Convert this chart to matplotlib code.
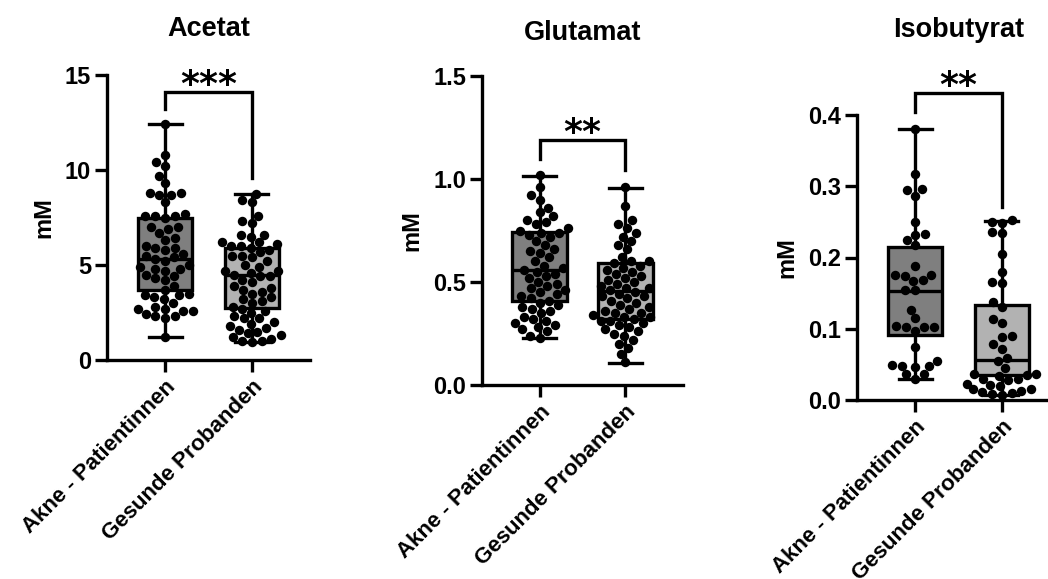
import matplotlib
matplotlib.use("Agg")
import matplotlib.pyplot as plt
import seaborn as sns

groups = ["Akne - Patientinnen", "Gesunde Probanden"]
titles = ["Acetat", "Glutamat", "Isobutyrat"]
stars = ["***", "**", "**"]

acetat_akne = [12.4, 10.8, 10.4, 10.2, 9.7, 9.3, 8.8, 8.8, 8.7, 8.7, 8.3, 7.7, 7.6, 7.6,
               7.6, 7.5, 7.0, 7.0, 6.9, 6.7, 6.4, 6.3, 6.0, 5.9, 5.9, 5.8, 5.6, 5.5, 5.4,
               5.3, 5.2, 5.0, 4.9, 4.8, 4.8, 4.7, 4.5, 4.4, 4.3, 4.2, 3.9, 3.7, 3.5, 3.4,
               3.4, 3.3, 3.2, 3.0, 2.8, 2.7, 2.7, 2.6, 2.6, 2.4, 2.3, 2.3, 2.2, 1.2]
acetat_gesund = [8.75, 8.4, 8.3, 7.6, 7.3, 7.2, 6.6, 6.6, 6.5, 6.2, 6.2, 6.1, 6.0, 6.0, 5.9,
                 5.8, 5.7, 5.5, 5.5, 5.4, 5.2, 5.0, 4.9, 4.7, 4.7, 4.6, 4.5, 4.4, 4.4, 4.2,
                 4.1, 3.9, 3.8, 3.7, 3.6, 3.5, 3.3, 3.2, 3.1, 3.0, 2.8, 2.7, 2.6, 2.5, 2.3,
                 2.2, 2.2, 2.0, 1.9, 1.8, 1.7, 1.6, 1.5, 1.4, 1.3, 1.2, 1.1, 1.0, 1.0, 0.95]

glutamat_akne = [1.02, 0.96, 0.92, 0.90, 0.86, 0.84, 0.82, 0.80, 0.79, 0.78, 0.76, 0.75,
                 0.74, 0.74, 0.73, 0.72, 0.70, 0.68, 0.66, 0.65, 0.64, 0.62, 0.60, 0.58,
                 0.57, 0.56, 0.55, 0.54, 0.53, 0.52, 0.50, 0.49, 0.48, 0.47, 0.46, 0.45,
                 0.44, 0.43, 0.42, 0.41, 0.40, 0.39, 0.38, 0.37, 0.36, 0.35, 0.33, 0.32,
                 0.31, 0.30, 0.29, 0.28, 0.27, 0.26, 0.24, 0.23]
glutamat_gesund = [0.96, 0.87, 0.80, 0.78, 0.76, 0.74, 0.72, 0.70, 0.68, 0.66, 0.62, 0.60,
                   0.60, 0.59, 0.58, 0.57, 0.56, 0.55, 0.54, 0.53, 0.52, 0.51, 0.50, 0.49,
                   0.48, 0.47, 0.47, 0.46, 0.45, 0.44, 0.43, 0.43, 0.42, 0.41, 0.40, 0.39,
                   0.38, 0.37, 0.36, 0.35, 0.35, 0.34, 0.33, 0.33, 0.32, 0.31, 0.31, 0.30,
                   0.29, 0.28, 0.27, 0.26, 0.25, 0.24, 0.22, 0.20, 0.18, 0.15, 0.11]

isobutyrat_akne = [0.380, 0.317, 0.296, 0.295, 0.287, 0.250, 0.233, 0.232, 0.225, 0.218,
                   0.188, 0.176, 0.175, 0.174, 0.168, 0.167, 0.155, 0.154, 0.127, 0.115,
                   0.103, 0.103, 0.102, 0.104, 0.097, 0.075, 0.055, 0.048, 0.048, 0.049,
                   0.047, 0.037, 0.036, 0.030]
isobutyrat_gesund = [0.252, 0.250, 0.249, 0.236, 0.235, 0.205, 0.180, 0.165, 0.164, 0.137,
                     0.130, 0.113, 0.108, 0.090, 0.089, 0.078, 0.071, 0.059, 0.055, 0.045,
                     0.037, 0.036, 0.035, 0.034, 0.030, 0.029, 0.028, 0.022, 0.021, 0.020,
                     0.016, 0.015, 0.012, 0.011, 0.010, 0.008, 0.007]

# box summary: min, q1, median, q3, max
acetat_box = [(1.2, 3.68, 5.3, 7.47, 12.4), (0.95, 2.74, 4.5, 5.9, 8.75)]
glutamat_box = [(0.23, 0.41, 0.56, 0.744, 1.015), (0.105, 0.32, 0.458, 0.594, 0.955)]
isobutyrat_box = [(0.030, 0.091, 0.153, 0.215, 0.381), (0.007, 0.035, 0.056, 0.133, 0.251)]

acetat_ticks = [0, 5, 10, 15]
glutamat_ticks = [0.0, 0.5, 1.0, 1.5]
isobutyrat_ticks = [0.0, 0.1, 0.2, 0.3, 0.4]
tick_fmt = ["{:.0f}", "{:.1f}", "{:.1f}"]

# bracket: bar height, left leg end, right leg end
acetat_bracket = (14.1, 13.2, 9.6)
glutamat_bracket = (1.19, 1.097, 1.044)
isobutyrat_bracket = (0.431, 0.404, 0.271)

panels = [
    (acetat_akne, acetat_gesund, acetat_box, acetat_ticks, acetat_bracket),
    (glutamat_akne, glutamat_gesund, glutamat_box, glutamat_ticks, glutamat_bracket),
    (isobutyrat_akne, isobutyrat_gesund, isobutyrat_box, isobutyrat_ticks, isobutyrat_bracket),
]

plt.rcParams['font.family'] = ['Liberation Sans', 'DejaVu Sans']
plt.rcParams['font.weight'] = 'bold'

W, H = 1048, 579
fig = plt.figure(figsize=(W / 100, H / 100), dpi=100)

# axes rectangles in pixels: left, top, right, bottom
rects = [(107, 75, 310, 360), (482, 76, 683, 385), (857, 115, 1060, 400)]
title_pads = [28, 26, 56]
box_colors = ["#7f7f7f", "#b2b2b2"]
lw = 2.4

for i, (g1, g2, box, ticks, bracket) in enumerate(panels):
    l, t, r, b = rects[i]
    ax = fig.add_axes([l / W, 1 - b / H, (r - l) / W, (b - t) / H])
    ax.set_xlim(-0.67, 1.67)
    ax.set_ylim(ticks[0], ticks[-1])

    stats = []
    for lo, q1, med, q3, hi in box:
        stats.append(dict(whislo=lo, q1=q1, med=med, q3=q3, whishi=hi, fliers=[]))
    bp = ax.bxp(stats, positions=[0, 1], widths=0.63, capwidths=0.38, patch_artist=True,
                showfliers=False,
                boxprops=dict(linewidth=lw, edgecolor="black"),
                whiskerprops=dict(linewidth=lw, color="black"),
                capprops=dict(linewidth=lw, color="black"),
                medianprops=dict(linewidth=lw, color="black"),
                zorder=1)
    for patch, c in zip(bp["boxes"], box_colors):
        patch.set_facecolor(c)

    xs = [0] * len(g1) + [1] * len(g2)
    sns.swarmplot(x=xs, y=g1 + g2, ax=ax, color="black", size=6.8, linewidth=0,
                  zorder=3, warn_thresh=1.0)

    ax.set_xlim(-0.67, 1.67)
    ax.set_ylim(ticks[0], ticks[-1])
    ax.set_xticks([0, 1])
    ax.set_xticklabels(groups, rotation=45, ha="right", rotation_mode="anchor",
                       fontsize=16, fontweight="bold")
    ax.set_yticks(ticks)
    ax.set_yticklabels([tick_fmt[i].format(v) for v in ticks], fontsize=17,
                       fontweight="bold")
    ax.set_ylabel("mM", fontsize=17, fontweight="bold", labelpad=7)
    ax.set_title(titles[i], fontsize=19.5, fontweight="bold", pad=title_pads[i])
    for s in ["top", "right"]:
        ax.spines[s].set_visible(False)
    for s in ["left", "bottom"]:
        ax.spines[s].set_linewidth(lw)
    ax.tick_params(axis="both", width=lw, length=8.5, pad=3)

    bar, left_end, right_end = bracket
    ax.plot([0, 0, 1, 1], [left_end, bar, bar, right_end], color="black", lw=lw,
            clip_on=False, solid_joinstyle="miter")
    ax.annotate(stars[i], xy=(0.5, bar), xytext=(0, -2), textcoords="offset points",
                ha="center", va="baseline", fontsize=26, fontweight="bold",
                family="DejaVu Sans", annotation_clip=False)

fig.savefig("out.png", dpi=100)
